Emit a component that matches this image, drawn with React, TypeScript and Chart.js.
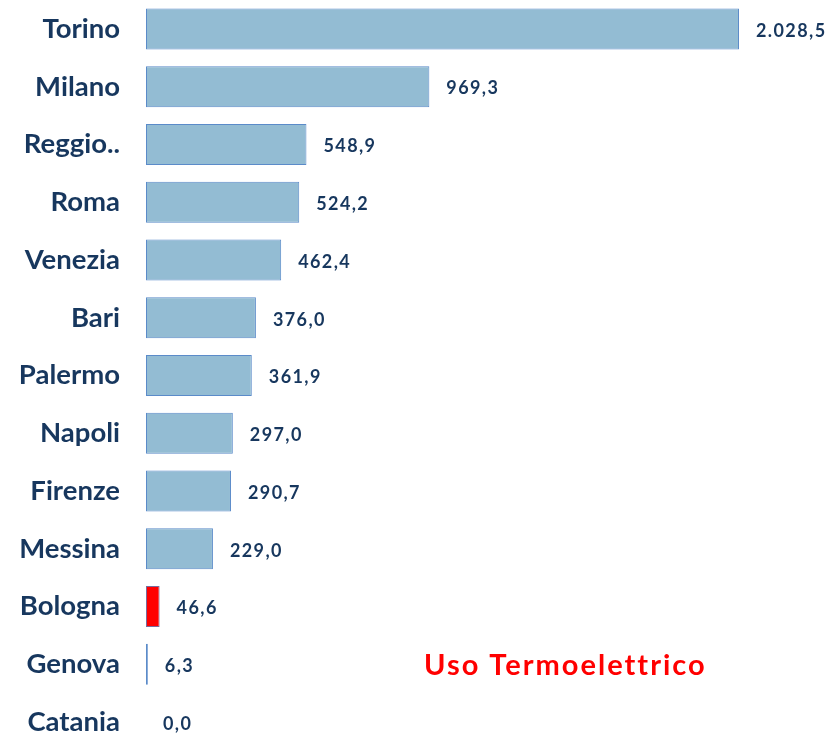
import React, { useEffect, useRef } from "react";
import { Chart, registerables } from "chart.js";

Chart.register(...registerables);

const categories = ["Torino", "Milano", "Reggio..", "Roma", "Venezia", "Bari", "Palermo", "Napoli", "Firenze", "Messina", "Bologna", "Genova", "Catania"];
const values = [2028.5, 969.3, 548.9, 524.2, 462.4, 376.0, 361.9, 297.0, 290.7, 229.0, 46.6, 6.3, 0.0];
const highlight = "Bologna";
const titleText = "Uso Termoelettrico";

const NAVY = "#17375E";
const FONT = "Lato, 'DejaVu Sans', sans-serif";

function fmt(v: number): string {
  const fixed = v.toFixed(1);
  const [intPart, dec] = fixed.split(".");
  const withSep = intPart.replace(/\B(?=(\d{3})+(?!\d))/g, ".");
  return withSep + "," + dec;
}

export default function App() {
  const ref = useRef<HTMLCanvasElement | null>(null);
  useEffect(() => {
    document.body.style.margin = "0";
    const canvas = ref.current!;
    const labelPlugin = {
      id: "valueLabels",
      afterDatasetsDraw(chart: any) {
        const ctx = chart.ctx;
        const meta = chart.getDatasetMeta(0);
        ctx.save();
        ctx.font = `bold 18px ${FONT}`;
        (ctx as any).letterSpacing = "1.4px";
        ctx.fillStyle = NAVY;
        ctx.textAlign = "left";
        ctx.textBaseline = "middle";
        meta.data.forEach((bar: any, i: number) => {
          ctx.fillText(fmt(values[i]), bar.x + 17, bar.y + 2);
        });
        ctx.font = `bold 29px ${FONT}`;
        (ctx as any).letterSpacing = "2px";
        ctx.fillStyle = "#FF0000";
        ctx.fillText(titleText, 424, 666);
        ctx.restore();
      },
    };
    const chart = new Chart(canvas, {
      type: "bar",
      data: {
        labels: categories,
        datasets: [
          {
            data: values,
            backgroundColor: categories.map((c) => (c === highlight ? "#FF0000" : "#93BCD3")),
            borderColor: categories.map((c) => (c === highlight ? "#7A6A9A" : "#5B8BC9")),
            borderWidth: 1,
            borderSkipped: false,
            categoryPercentage: 0.71,
            barPercentage: 1,
          },
        ],
      },
      options: {
        indexAxis: "y",
        animation: false,
        responsive: false,
        maintainAspectRatio: false,
        layout: { padding: 0 },
        plugins: { legend: { display: false }, tooltip: { enabled: false }, title: { display: false } },
        scales: {
          x: { display: false, min: 0, max: 2333 },
          y: {
            afterFit(scale: any) {
              scale.width = 146;
              scale.paddingTop = 0;
              scale.paddingBottom = 0;
            },
            grid: { display: false, drawTicks: false },
            border: { display: false },
            ticks: {
              padding: 26,
              color: NAVY,
              font: { family: FONT, size: 27.5, weight: "bold" },
            },
          },
        },
      },
      plugins: [labelPlugin],
    });
    return () => chart.destroy();
  }, []);
  return (
    <div style={{ width: 828, height: 733, overflow: "hidden", position: "relative", background: "#fff" }}>
      <canvas ref={ref} width={828} height={751} style={{ display: "block" }} />
    </div>
  );
}
